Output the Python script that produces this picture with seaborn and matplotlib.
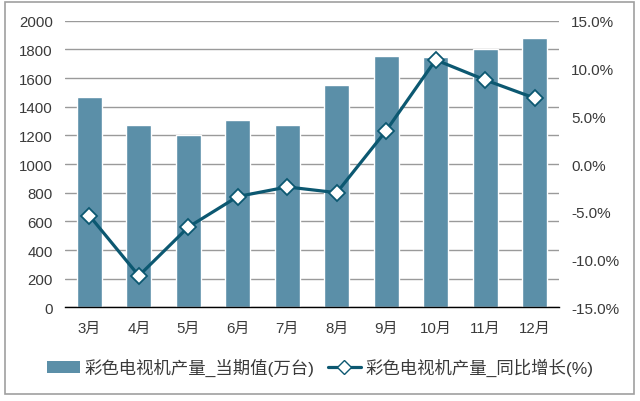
import matplotlib
matplotlib.use("Agg")
import matplotlib.pyplot as plt
import seaborn as sns
import pandas as pd
from matplotlib.patches import Patch, Rectangle
from matplotlib.lines import Line2D
from matplotlib.ticker import FuncFormatter

months = ["3月", "4月", "5月", "6月", "7月", "8月", "9月", "10月", "11月", "12月"]
output = [1470, 1275, 1200, 1310, 1275, 1550, 1755, 1750, 1800, 1880]
growth = [-5.4, -11.7, -6.6, -3.4, -2.4, -3.0, 3.5, 10.9, 8.8, 6.9]
bar_label = "彩色电视机产量_当期值(万台)"
line_label = "彩色电视机产量_同比增长(%)"

df = pd.DataFrame({"month": months, "output": output, "growth": growth})

sns.set_style("white")
plt.rcParams["font.family"] = ["Liberation Sans", "Noto Sans CJK SC", "DejaVu Sans"]

bar_color = "#5b8fa8"
line_color = "#0c5871"
text_color = "#3a3a3a"

fig = plt.figure(figsize=(6.4, 4.02), dpi=100)
ax = fig.add_axes([0.101, 0.233, 0.773, 0.713])

sns.barplot(data=df, x="month", y="output", color=bar_color, width=0.5,
            saturation=1, ax=ax, zorder=2)
ax.set_ylim(0, 2000)
ax.set_yticks(range(0, 2001, 200))
ax.yaxis.grid(True, color="#9a9a9a", linewidth=1, zorder=0)
ax.set_axisbelow(True)
ax.set_xlabel("")
ax.set_ylabel("")
for s in ["top", "right", "left"]:
    ax.spines[s].set_visible(False)
ax.spines["bottom"].set_color("#000000")
ax.spines["bottom"].set_linewidth(1)
ax.tick_params(axis="y", length=0, pad=8.5, labelsize=10.8, labelcolor=text_color)
ax.tick_params(axis="x", length=0, pad=10, labelsize=10.8, labelcolor=text_color)

ax2 = ax.twinx()
sns.pointplot(data=df, x="month", y="growth", color=line_color, markers="D",
              ax=ax2, markersize=8, markerfacecolor="white",
              markeredgecolor=line_color, markeredgewidth=1.3, linewidth=2.3)
ax2.set_ylim(-15, 15)
ax2.set_yticks(range(-15, 16, 5))
ax2.yaxis.set_major_formatter(FuncFormatter(lambda v, p: f"{v:.1f}%"))
ax2.set_ylabel("")
ax2.set_xlabel("")
for s in ["top", "right", "left", "bottom"]:
    ax2.spines[s].set_visible(False)
ax2.tick_params(axis="y", length=0, pad=8.5, labelsize=11, labelcolor=text_color)
ax2.set_xlim(ax.get_xlim())

handles = [
    Patch(facecolor=bar_color, edgecolor="none"),
    Line2D([0], [0], color=line_color, linewidth=2.3, marker="D", markersize=7,
           markerfacecolor="white", markeredgecolor=line_color),
]
fig.legend(handles, [bar_label, line_label], loc="center", ncol=2,
           bbox_to_anchor=(0.5, 0.085), frameon=False, fontsize=12.5,
           labelcolor=text_color, handlelength=1.9, handletextpad=0.25,
           columnspacing=0.8)

fig.patches.append(Rectangle((5 / 640, 1 - 395 / 402), 629 / 640, 392 / 402,
                             transform=fig.transFigure, fill=False,
                             edgecolor="#a0a0a0", linewidth=1.2))

fig.savefig("out.png", dpi=100)
